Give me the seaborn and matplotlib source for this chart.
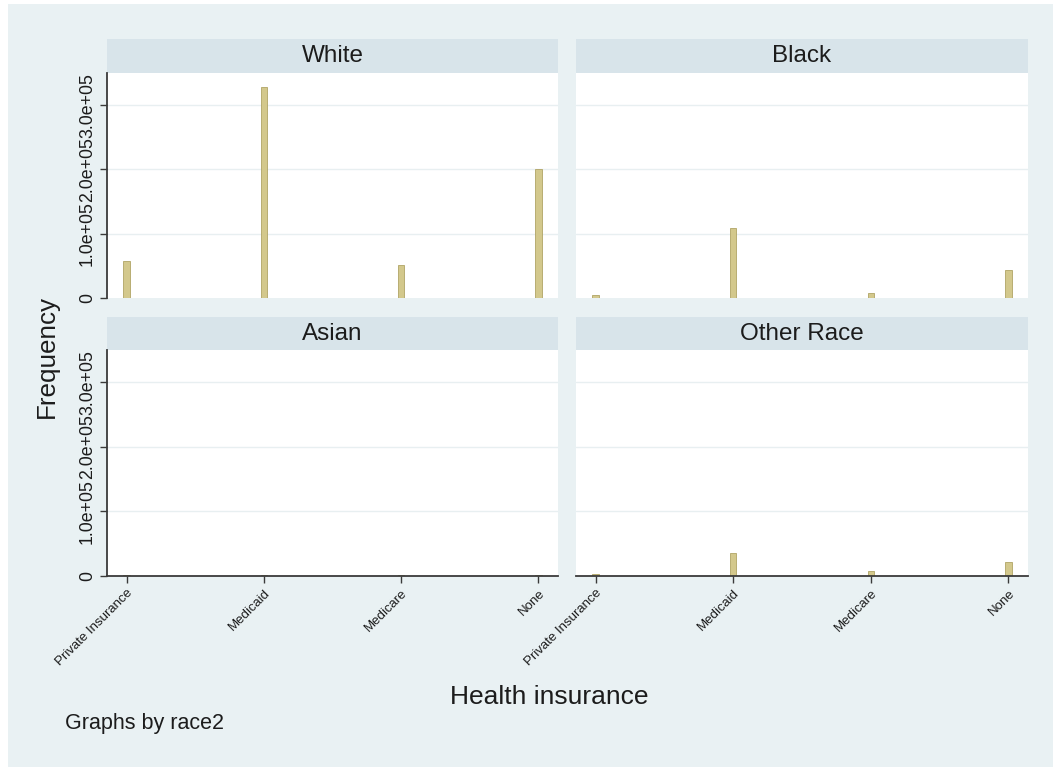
import numpy as np
import pandas as pd
import matplotlib
matplotlib.use("Agg")
import matplotlib.pyplot as plt
import seaborn as sns
from matplotlib.patches import Rectangle

# ---- data ----
insurance = ["Private Insurance", "Medicaid", "Medicare", "None"]
races = ["White", "Black", "Asian", "Other Race"]
white = [58000, 328000, 51000, 200000]
black = [4000, 109000, 8000, 43000]
asian = [1000, 2000, 1000, 1500]
other = [3500, 36000, 8000, 22000]
yticks = [0, 100000, 200000, 300000]
ytick_labels = ["0", "1.0e+05", "2.0e+05", "3.0e+05"]

series = {"White": white, "Black": black, "Asian": asian, "Other Race": other}
df = pd.DataFrame(
    [(r, ins, v) for r in races for ins, v in zip(insurance, series[r])],
    columns=["race", "insurance", "count"],
)

sns.set_theme(style="white")
plt.rcParams["font.family"] = ["Liberation Sans", "DejaVu Sans"]

W, H = 1053, 767
BG = "#e9f1f3"
STRIP = "#d8e4ea"
GRID = "#e8eff1"
BAR = "#d3c88c"
EDGE = "#b0a465"
AXC = "#3a3a3a"
TXT = "#1c1c1c"

fig = plt.figure(figsize=(W / 100, H / 100), dpi=100, facecolor="white")
fig.add_artist(Rectangle((8 / W, 0), 1 - 8 / W, 1 - 4 / H, transform=fig.transFigure,
                         facecolor=BG, edgecolor="none", zorder=-10))


def frect(l, t, r, b):
    return [l / W, 1 - b / H, (r - l) / W, (b - t) / H]


panels = {
    "White": (107, 73, 558, 298, 39),
    "Black": (576, 73, 1028, 298, 39),
    "Asian": (107, 350, 558, 576, 317),
    "Other Race": (576, 350, 1028, 576, 317),
}

for i, race in enumerate(races):
    l, t, r, b, ht = panels[race]
    left_col = i % 2 == 0
    bottom_row = i >= 2
    ax = fig.add_axes(frect(l, t, r, b))
    sub = df[df["race"] == race]
    sns.barplot(data=sub, x="insurance", y="count", order=insurance, color=BAR,
                saturation=1, width=0.045, edgecolor=EDGE, linewidth=0.6, ax=ax,
                errorbar=None)
    ax.set_facecolor("white")
    ax.set_xlim(-0.142, 3.142)
    ax.set_ylim(0, 3.5e5)
    ax.set_xlabel("")
    ax.set_ylabel("")
    ax.set_axisbelow(True)
    for yv in yticks[1:]:
        ax.axhline(yv, color=GRID, lw=1.0, zorder=0)
    for s in ax.spines.values():
        s.set_visible(False)
    ax.set_yticks(yticks)
    if left_col:
        ax.spines["left"].set_visible(True)
        ax.spines["left"].set_color(AXC)
        ax.spines["left"].set_linewidth(1.3)
        ax.set_yticklabels(ytick_labels, rotation=90, va="center", fontsize=12.8, color=TXT)
        ax.tick_params(axis="y", left=True, length=5, width=1, color=AXC, pad=3,
                       direction="out")
    else:
        ax.tick_params(axis="y", left=False, labelleft=False)
    ax.set_xticks(range(len(insurance)))
    if bottom_row:
        ax.spines["bottom"].set_visible(True)
        ax.spines["bottom"].set_color(AXC)
        ax.spines["bottom"].set_linewidth(1.3)
        ax.set_xticklabels(insurance, rotation=45, ha="right", rotation_mode="anchor",
                           fontsize=9.5, color=TXT)
        ax.tick_params(axis="x", bottom=True, length=5, width=1, color=AXC, pad=3,
                       direction="out")
    else:
        ax.tick_params(axis="x", bottom=False, labelbottom=False)
    # strip header
    fig.add_artist(Rectangle((l / W, 1 - t / H), (r - l) / W, (t - ht) / H,
                             transform=fig.transFigure, facecolor=STRIP,
                             edgecolor="none", zorder=-5))
    fig.text((l + r) / 2 / W, 1 - (t + ht) / 2 / H, race, ha="center", va="center",
             fontsize=17.5, color=TXT)

fig.text(47 / W, 1 - 356 / H, "Frequency", rotation=90, ha="center", va="center",
         fontsize=18.7, color=TXT)
fig.text(549 / W, 1 - 697 / H, "Health insurance", ha="center", va="center",
         fontsize=19, color=TXT)
fig.text(65 / W, 1 - 724 / H, "Graphs by race2", ha="left", va="center",
         fontsize=15.5, color=TXT)

fig.savefig("out.png", dpi=100, facecolor=fig.get_facecolor())
